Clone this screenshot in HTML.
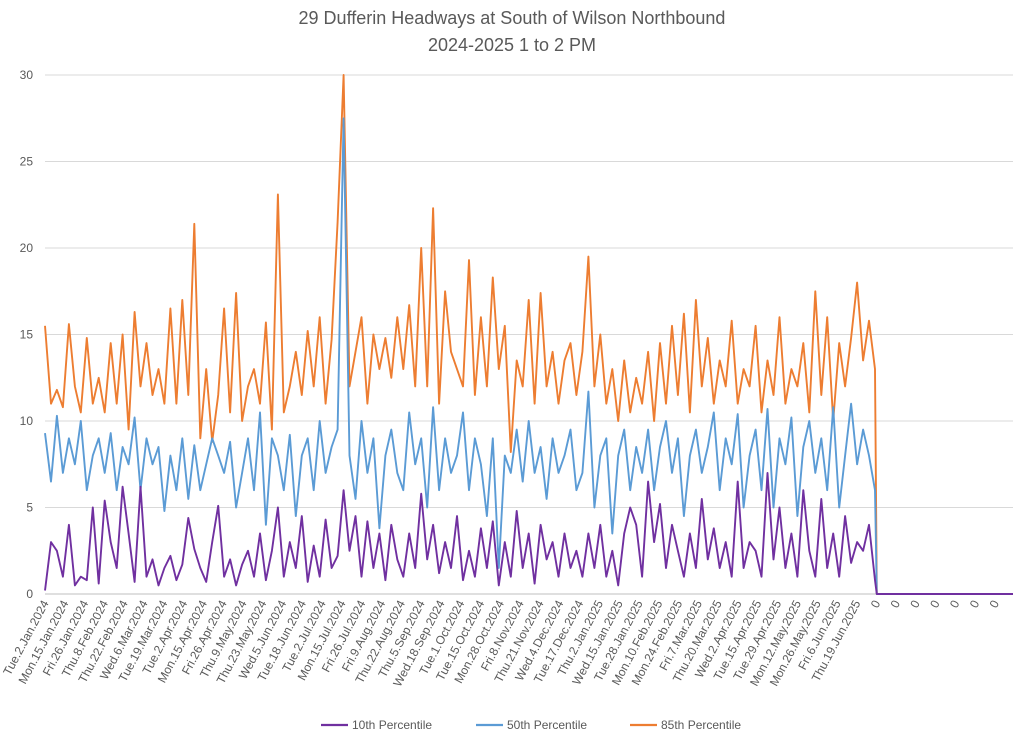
<!DOCTYPE html>
<html><head><meta charset="utf-8">
<style>
html,body{margin:0;padding:0;background:#fff;}
svg{display:block;font-family:"Liberation Sans",Arial,sans-serif;}
</style></head>
<body>
<svg id="chart" width="1024" height="741" viewBox="0 0 1024 741">
  <text x="512" y="24" text-anchor="middle" font-size="18" fill="#595959">29 Dufferin Headways at South of Wilson Northbound</text>
  <text x="512" y="51" text-anchor="middle" font-size="18" fill="#595959">2024-2025 1 to 2 PM</text>
  <g id="grid"></g>
  <g id="ylabels"></g>
  <g id="xlabels"></g>
  <g id="series"></g>
  <g>
    <g>
      <line x1="321" y1="725" x2="348" y2="725" stroke="#7030a0" stroke-width="2.2"/>
      <text x="352" y="729" font-size="12" fill="#595959">10th Percentile</text>
    </g>
    <g>
      <line x1="476" y1="725" x2="503" y2="725" stroke="#5b9bd5" stroke-width="2.2"/>
      <text x="507" y="729" font-size="12" fill="#595959">50th Percentile</text>
    </g>
    <g>
      <line x1="630" y1="725" x2="657" y2="725" stroke="#ed7d31" stroke-width="2.2"/>
      <text x="661" y="729" font-size="12" fill="#595959">85th Percentile</text>
    </g>
  </g>
</svg>
<script>
const yTicks = [0,5,10,15,20,25,30];
const dateLabels = ["Tue.2.Jan.2024","Mon.15.Jan.2024","Fri.26.Jan.2024","Thu.8.Feb.2024","Thu.22.Feb.2024","Wed.6.Mar.2024","Tue.19.Mar.2024","Tue.2.Apr.2024","Mon.15.Apr.2024","Fri.26.Apr.2024","Thu.9.May.2024","Thu.23.May.2024","Wed.5.Jun.2024","Tue.18.Jun.2024","Tue.2.Jul.2024","Mon.15.Jul.2024","Fri.26.Jul.2024","Fri.9.Aug.2024","Thu.22.Aug.2024","Thu.5.Sep.2024","Wed.18.Sep.2024","Tue.1.Oct.2024","Tue.15.Oct.2024","Mon.28.Oct.2024","Fri.8.Nov.2024","Thu.21.Nov.2024","Wed.4.Dec.2024","Tue.17.Dec.2024","Thu.2.Jan.2025","Wed.15.Jan.2025","Tue.28.Jan.2025","Mon.10.Feb.2025","Mon.24.Feb.2025","Fri.7.Mar.2025","Thu.20.Mar.2025","Wed.2.Apr.2025","Tue.15.Apr.2025","Tue.29.Apr.2025","Mon.12.May.2025","Mon.26.May.2025","Fri.6.Jun.2025","Thu.19.Jun.2025"];
const zeroLabels = ["0","0","0","0","0","0","0"];
const p85 = [15.5,11,11.8,10.8,15.6,12,10.5,14.8,11,12.5,
10.5,14.5,11,15,9.5,16.3,12,14.5,11.5,13,
11,16.5,11,17,11.5,21.4,9,13,8.8,11.5,
16.5,10.5,17.4,10,12,13,11,15.7,9.5,23.1,
10.5,12,14,11.5,15.2,12,16,11,14.7,21.5,
30,12,14,16,11,15,13,14.8,12.5,16,
13,16.7,12,20,12,22.3,11,17.5,14,13,
12,19.3,11.5,16,12,18.3,13,15.5,8.2,13.5,
12,17,11,17.4,12,14,11,13.5,14.5,11.5,
14,19.5,12,15,11,13,10,13.5,10.5,12.5,
11,14,10,14.5,11,15.5,11.5,16.2,10.5,17,
12,14.8,11,13.5,12,15.8,11,13,12,15.5,
10.5,13.5,11.5,16,11,13,12,14.5,10.5,17.5,
11.5,16,10,14.5,12,14.8,18,13.5,15.8,13];
const p50 = [9.3,6.5,10.3,7,9,7.5,10,6,8,9,
7,9.3,6,8.5,7.5,10.2,6,9,7.5,8.5,
4.8,8,6,9,5.5,8.6,6,7.5,9,8,
7,8.8,5,7,9,6,10.5,4,9,8,
6,9.2,4.5,8,9,6,10,7,8.5,9.5,
27.5,8,5.5,10,7,9,3.8,8,9.5,7,
6,10.5,7.5,9,5,10.8,6,9,7,8,
10.5,6,9,7.5,4.5,9,1.5,8,7,9.5,
6.5,10,7,8.5,5.5,9,7,8,9.5,6,
7,11.7,5,8,9,3.5,8,9.5,6,8.5,
7,9.5,6,8.5,10,7,9,4.5,8,9.5,
7,8.5,10.5,6,9,7.5,10.4,5,8,9.5,
6,10.7,5,9,7.5,10.2,4.5,8.5,10,7,
9,6,10.8,5,8,11,7.5,9.5,8,6];
const p10 = [0.2,3,2.5,1,4,0.5,1,0.8,5,0.6,
5.4,3,1.5,6.2,3.5,0.7,6.2,1,2,0.5,
1.5,2.2,0.8,1.7,4.4,2.6,1.5,0.7,3,5.1,
1,2,0.5,1.7,2.5,1,3.5,0.8,2.5,5,
1,3,1.5,4.5,0.7,2.8,1,4.3,1.5,2.2,
6,2.5,4.5,1,4.2,1.5,3.5,0.8,4,2,
1,3.5,1.5,5.8,2,4,1.2,3,1.5,4.5,
0.8,2.5,1,3.8,1.5,4.2,0.5,3,1,4.8,
1.5,3.5,0.6,4,2,3,1,3.5,1.5,2.5,
1,3.5,1.5,4,1,2.5,0.5,3.5,5,4,
1,6.5,3,5.2,1.5,4,2.5,1,3.5,1.5,
5.5,2,3.8,1.5,3,1,6.5,1.5,3,2.5,
1,7,2,5,1.5,3.5,1,6,2.5,1,
5.5,1.5,3.5,1,4.5,1.8,3,2.5,4,0.8];

const NS='http://www.w3.org/2000/svg';
const X0=45, X1=1013, Y0=594, YTOP=75, YMAX=30;
const dataEndX=875, tailX=876.8, labelStep=19.8;
function yScale(v){return Y0-(Math.min(v,YMAX)/YMAX)*(Y0-YTOP);}
function xData(i,n){return X0+i*(dataEndX-X0)/(n-1);}
function mk(tag,attrs,parent){const e=document.createElementNS(NS,tag);for(const k in attrs)e.setAttribute(k,attrs[k]);parent.appendChild(e);return e;}

const grid=document.getElementById('grid'), yl=document.getElementById('ylabels');
yTicks.forEach(t=>{
  const y=yScale(t);
  const l=mk('line',{x1:X0,x2:X1,y1:y,y2:y,stroke:t===0?'#bfbfbf':'#d9d9d9','stroke-width':1},grid);
  
  
  const tx=mk('text',{x:33,y:y+4,'text-anchor':'end','font-size':12,fill:'#595959'},yl);
  
  
  tx.textContent=t;
});

const xl=document.getElementById('xlabels');
const allLabels=dateLabels.concat(zeroLabels);
allLabels.forEach((s,k)=>{
  const x=X0+k*labelStep+4, y=603;
  const tx=mk('text',{x:x,y:y,'text-anchor':'end','font-size':12,fill:'#595959',transform:`rotate(-62 ${x} ${y})`},xl);
  
  
  tx.textContent=s;
});

const ser=document.getElementById('series');
function drawSeries(arr,color,name){
  const n=arr.length;
  let d=arr.map((v,i)=>(i?'L':'M')+xData(i,n).toFixed(1)+' '+yScale(v).toFixed(1)).join(' ');
  d+=' L'+tailX+' '+yScale(0)+' L'+X1+' '+yScale(0);
  const p=mk('path',{d:d,fill:'none',stroke:color,'stroke-width':1.9,'stroke-linejoin':'round'},ser);
  
  
}
drawSeries(p85,'#ed7d31','series-85th-percentile');
drawSeries(p50,'#5b9bd5','series-50th-percentile');
drawSeries(p10,'#7030a0','series-10th-percentile');
</script>
</body></html>
